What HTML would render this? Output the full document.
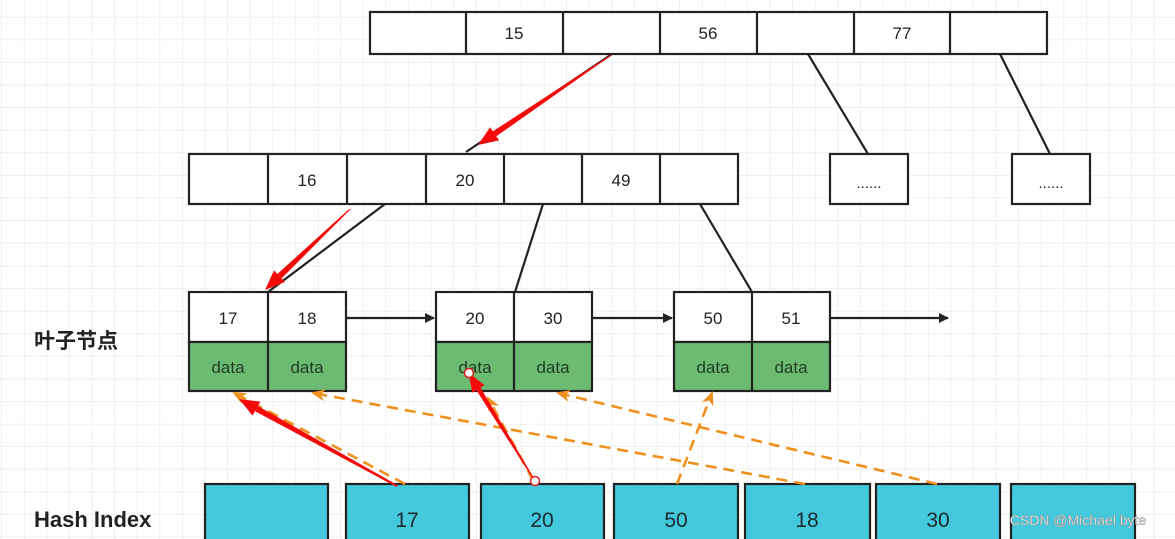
<!DOCTYPE html>
<html><head><meta charset="utf-8"><style>
html,body{margin:0;padding:0;background:#fff;}
svg{display:block;}
text{font-family:"Liberation Sans","Noto Sans CJK SC",sans-serif;}
</style></head><body>
<svg width="1175" height="539" viewBox="0 0 1175 539" xmlns="http://www.w3.org/2000/svg">
<defs>
<pattern id="g" width="22.6" height="22.6" patternUnits="userSpaceOnUse" x="2" y="-5">
<path d="M22.6 0V22.6M0 22.6H22.6" stroke="#e6e6e6" stroke-width="1.2" fill="none"/>
</pattern>
<marker id="bk" markerWidth="10" markerHeight="10" refX="9" refY="5" orient="auto" markerUnits="userSpaceOnUse" viewBox="0 0 10 10"><path d="M0 0L10 5L0 10z" fill="#222"/></marker>
<marker id="or" markerWidth="14" markerHeight="12" refX="12" refY="6" orient="auto" markerUnits="userSpaceOnUse"><path d="M0 0L14 6L0 12L4 6z" fill="#f0901c"/></marker>
</defs>
<rect width="1175" height="539" fill="url(#g)"/>
<g stroke="#222" stroke-width="2.2" fill="none">
<path d="M808 54L868 154M1000 54L1050 154M612 54L466 152M385 204L268 292M543 204L515 292M700 204L752 292"/>
</g>
<g stroke="#222" stroke-width="2.2" fill="#fff">
<rect x="370" y="12" width="677" height="42"/>
<path d="M466 12V54M563 12V54M660 12V54M757 12V54M854 12V54M950 12V54"/>
<rect x="189" y="154" width="549" height="50"/>
<path d="M268 154V204M347 154V204M426 154V204M504 154V204M582 154V204M660 154V204"/>
<rect x="830" y="154" width="78" height="50"/>
<rect x="1012" y="154" width="78" height="50"/>
<rect x="189" y="292" width="157" height="50"/><rect x="436" y="292" width="156" height="50"/><rect x="674" y="292" width="156" height="50"/>
</g>
<g stroke="#222" stroke-width="2.2" fill="#6dbb72">
<rect x="189" y="342" width="157" height="49"/><rect x="436" y="342" width="156" height="49"/><rect x="674" y="342" width="156" height="49"/>
</g>
<g stroke="#222" stroke-width="2.2"><path d="M268 292V391M514 292V391M752 292V391"/></g>
<g stroke="#222" stroke-width="2.2" fill="#44c9dc">
<rect x="205" y="484" width="123" height="60"/><rect x="346" y="484" width="123" height="60"/><rect x="481" y="484" width="123" height="60"/>
<rect x="614" y="484" width="124" height="60"/><rect x="745" y="484" width="125" height="60"/><rect x="876" y="484" width="124" height="60"/><rect x="1011" y="484" width="124" height="60"/>
</g>
<g stroke="#222" stroke-width="2.2" marker-end="url(#bk)">
<line x1="346" y1="318" x2="434" y2="318"/><line x1="592" y1="318" x2="672" y2="318"/><line x1="830" y1="318" x2="948" y2="318"/>
</g>
<g font-size="17" fill="#222" text-anchor="middle">
<text x="514" y="39">15</text><text x="708" y="39">56</text><text x="902" y="39">77</text>
<text x="307" y="186">16</text><text x="465" y="186">20</text><text x="621" y="186">49</text>
<text x="869" y="188" font-size="15">......</text><text x="1051" y="188" font-size="15">......</text>
<text x="228" y="324">17</text><text x="307" y="324">18</text><text x="475" y="324">20</text><text x="553" y="324">30</text><text x="713" y="324">50</text><text x="791" y="324">51</text>
<text x="228" y="373" fill="#1f3d22">data</text><text x="307" y="373" fill="#1f3d22">data</text><text x="475" y="373" fill="#1f3d22">data</text><text x="553" y="373" fill="#1f3d22">data</text><text x="713" y="373" fill="#1f3d22">data</text><text x="791" y="373" fill="#1f3d22">data</text>
<g font-size="21" fill="#1a2a30"><text x="407" y="527">17</text><text x="542" y="527">20</text><text x="676" y="527">50</text><text x="807" y="527">18</text><text x="938" y="527">30</text></g>
</g>
<text x="34" y="348" font-size="21" fill="#222" font-weight="bold">叶子节点</text>
<text x="34" y="527" font-size="22" fill="#222" font-weight="bold">Hash Index</text>
<text x="1078" y="525" font-size="14" fill="#fff" stroke="#999" stroke-width="0.6" text-anchor="middle">CSDN @Michael byte</text>
<g stroke="#f0901c" stroke-width="2.6" stroke-dasharray="11 7" fill="none" marker-end="url(#or)">
<line x1="405" y1="484" x2="234" y2="393"/><line x1="805" y1="484" x2="313" y2="393"/><line x1="937" y1="484" x2="558" y2="393"/><line x1="677" y1="484" x2="712" y2="393"/><line x1="533" y1="480" x2="488" y2="398"/>
</g>
<g fill="#f50a0a">
<polygon points="611.3,55.4 610.7,54.6 492.9,131.3 496.3,136.3"/><polygon points="478,145 499.1,140.4 490.1,127.2"/>
<polygon points="350.4,209.4 349.6,208.6 277.4,274 281.6,278.4"/><polygon points="265,290 285,282 274,270.4"/>
<polygon points="397.5,485.1 396.5,486.9 255.1,411.2 257.9,406"/><polygon points="239,399 260.4,401.6 252.6,415.6"/>
<polygon points="535.5,480.7 534.5,481.3 476.4,390.3 480.6,387.7"/><polygon points="468,372 484.5,385.3 472.5,392.7"/>
</g>
<circle cx="469" cy="373" r="4.5" fill="#fff" stroke="#e02020" stroke-width="1.5"/>
<circle cx="535" cy="481" r="4.5" fill="#fff" stroke="#e02020" stroke-width="1.5"/>
</svg>
</body></html>
